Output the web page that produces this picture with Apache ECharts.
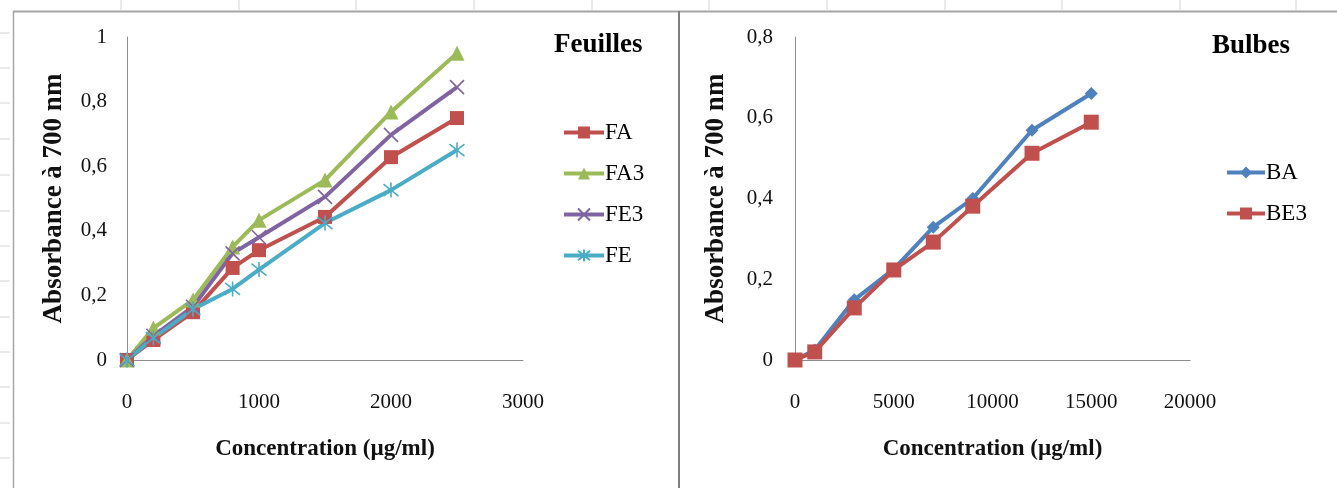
<!DOCTYPE html>
<html>
<head>
<meta charset="utf-8">
<script src="https://cdn.jsdelivr.net/npm/echarts@6/dist/echarts.min.js"></script>
<style>html,body{margin:0;padding:0;background:#fff;}#c{width:1337px;height:488px;}</style>
</head>
<body>
<div id="c"></div>
<script>
// ---- data ----
const feuillesX = [0, 200, 500, 800, 1000, 1500, 2000, 2500];
const FA  = [0, 0.062, 0.148, 0.285, 0.340, 0.443, 0.628, 0.749];
const FA3 = [0, 0.099, 0.186, 0.350, 0.433, 0.557, 0.768, 0.950];
const FE3 = [0, 0.075, 0.165, 0.330, 0.380, 0.505, 0.697, 0.845];
const FE  = [0, 0.068, 0.157, 0.220, 0.280, 0.424, 0.526, 0.650];
const bulbesX = [0, 1000, 3000, 5000, 7000, 9000, 12000, 15000];
const BA  = [0, 0.025, 0.149, 0.225, 0.329, 0.400, 0.569, 0.660];
const BE3 = [0, 0.020, 0.129, 0.223, 0.292, 0.381, 0.512, 0.589];
const titles = ['Feuilles', 'Bulbes'];
const xName = 'Concentration (µg/ml)';
const yName = 'Absorbance à 700 nm';

const FONT = "'Liberation Serif', 'DejaVu Serif', serif";
const pair = (xs, ys) => xs.map((x, i) => [x, ys[i]]);
const fmtY = v => (Math.round(v * 10) / 10).toString().replace('.', ',');
const fmtX = v => String(Math.round(v));

const CROSS = 'path://M0,0L10,10M10,0L0,10';
const STAR = 'path://M1,1L9,9M9,1L1,9M5,0L5,10';
const LW = 4;

function mk(name, xs, ys, color, symbol, size, idx, stroke) {
  return {
    name, type: 'line', xAxisIndex: idx, yAxisIndex: idx,
    data: pair(xs, ys), symbol, symbolSize: size, showSymbol: true,
    lineStyle: { color, width: LW },
    itemStyle: stroke ? { color: 'rgba(0,0,0,0)', borderColor: color, borderWidth: 1.6 } : { color, borderWidth: 0 },
    color, animation: false, z: 2
  };
}

const grayLines = [];
[121, 239, 356, 474, 592, 709, 827, 945, 1062, 1180, 1296].forEach(x => {
  grayLines.push({ type: 'line', shape: { x1: x, y1: 0, x2: x, y2: 10 }, style: { stroke: '#d4d4d4', lineWidth: 1 } });
});
[33, 68, 103, 139, 175, 211, 246, 281, 317, 352, 387, 423, 458].forEach(y => {
  grayLines.push({ type: 'line', shape: { x1: 0, y1: y, x2: 10, y2: y }, style: { stroke: '#d4d4d4', lineWidth: 1 } });
});
grayLines.push({ type: 'line', shape: { x1: 13, y1: 11.5, x2: 1337, y2: 11.5 }, style: { stroke: '#a6a6a6', lineWidth: 2 } });
grayLines.push({ type: 'line', shape: { x1: 13.5, y1: 11, x2: 13.5, y2: 488 }, style: { stroke: '#a6a6a6', lineWidth: 1.5 } });
grayLines.push({ type: 'line', shape: { x1: 679, y1: 11, x2: 679, y2: 488 }, style: { stroke: '#7f7f7f', lineWidth: 2 } });

const axisCommon = {
  axisLine: { show: true, lineStyle: { color: '#8c8c8c', width: 1 } },
  axisTick: { show: false },
  splitLine: { show: false },
  axisLabel: { color: '#111', fontFamily: FONT, fontSize: 21 }
};
const legendCommon = {
  orient: 'vertical', padding: 0, itemWidth: 40, itemHeight: 15, itemGap: 18,
  lineStyle: { width: LW },
  textStyle: { fontFamily: FONT, fontSize: 23, color: '#000', padding: [0, 0, 0, -4] }
};

const option = {
  backgroundColor: '#ffffff',
  animation: false,
  title: [
    { text: titles[0], left: 554, top: 32, padding: 0, textStyle: { fontFamily: FONT, fontWeight: 'bold', fontSize: 27, color: '#000' } },
    { text: titles[1], left: 1212, top: 33, padding: 0, textStyle: { fontFamily: FONT, fontWeight: 'bold', fontSize: 27, color: '#000' } }
  ],
  legend: [
    Object.assign({}, legendCommon, { data: ['FA', 'FA3', 'FE3', 'FE'], left: 562, top: 121 }),
    Object.assign({}, legendCommon, { data: ['BA', 'BE3'], left: 1225, top: 161, itemWidth: 38 })
  ],
  grid: [
    { left: 127, top: 37, width: 396, height: 323 },
    { left: 795, top: 37, width: 395, height: 323 }
  ],
  xAxis: [
    Object.assign({}, axisCommon, { type: 'value', gridIndex: 0, min: 0, max: 3000, interval: 1000,
      axisLabel: Object.assign({}, axisCommon.axisLabel, { margin: 32, formatter: fmtX }),
      name: xName, nameLocation: 'middle', nameGap: 78,
      nameTextStyle: { fontFamily: FONT, fontWeight: 'bold', fontSize: 23, color: '#111' } }),
    Object.assign({}, axisCommon, { type: 'value', gridIndex: 1, min: 0, max: 20000, interval: 5000,
      axisLabel: Object.assign({}, axisCommon.axisLabel, { margin: 32, formatter: fmtX }),
      name: xName, nameLocation: 'middle', nameGap: 78,
      nameTextStyle: { fontFamily: FONT, fontWeight: 'bold', fontSize: 23, color: '#111' } })
  ],
  yAxis: [
    Object.assign({}, axisCommon, { type: 'value', gridIndex: 0, min: 0, max: 1, interval: 0.2,
      axisLabel: Object.assign({}, axisCommon.axisLabel, { margin: 20, formatter: fmtY }),
      name: yName, nameLocation: 'middle', nameGap: 59, nameRotate: 90,
      nameTextStyle: { fontFamily: FONT, fontWeight: 'bold', fontSize: 27, color: '#111' } }),
    Object.assign({}, axisCommon, { type: 'value', gridIndex: 1, min: 0, max: 0.8, interval: 0.2,
      axisLabel: Object.assign({}, axisCommon.axisLabel, { margin: 22, formatter: fmtY }),
      name: yName, nameLocation: 'middle', nameGap: 65, nameRotate: 90,
      nameTextStyle: { fontFamily: FONT, fontWeight: 'bold', fontSize: 27, color: '#111' } })
  ],
  graphic: { elements: grayLines },
  series: [
    mk('FA', feuillesX, FA, '#C0504D', 'rect', 14, 0, false),
    mk('FA3', feuillesX, FA3, '#9BBB59', 'triangle', 15, 0, false),
    mk('FE3', feuillesX, FE3, '#8064A2', CROSS, 14, 0, true),
    mk('FE', feuillesX, FE, '#4BACC6', STAR, 15, 0, true),
    mk('BA', bulbesX, BA, '#4F81BD', 'diamond', 13, 1, false),
    mk('BE3', bulbesX, BE3, '#C0504D', 'rect', 15, 1, false)
  ]
};

const chart = echarts.init(document.getElementById('c'), null, { renderer: 'canvas' });
chart.setOption(option);
</script>
</body>
</html>
